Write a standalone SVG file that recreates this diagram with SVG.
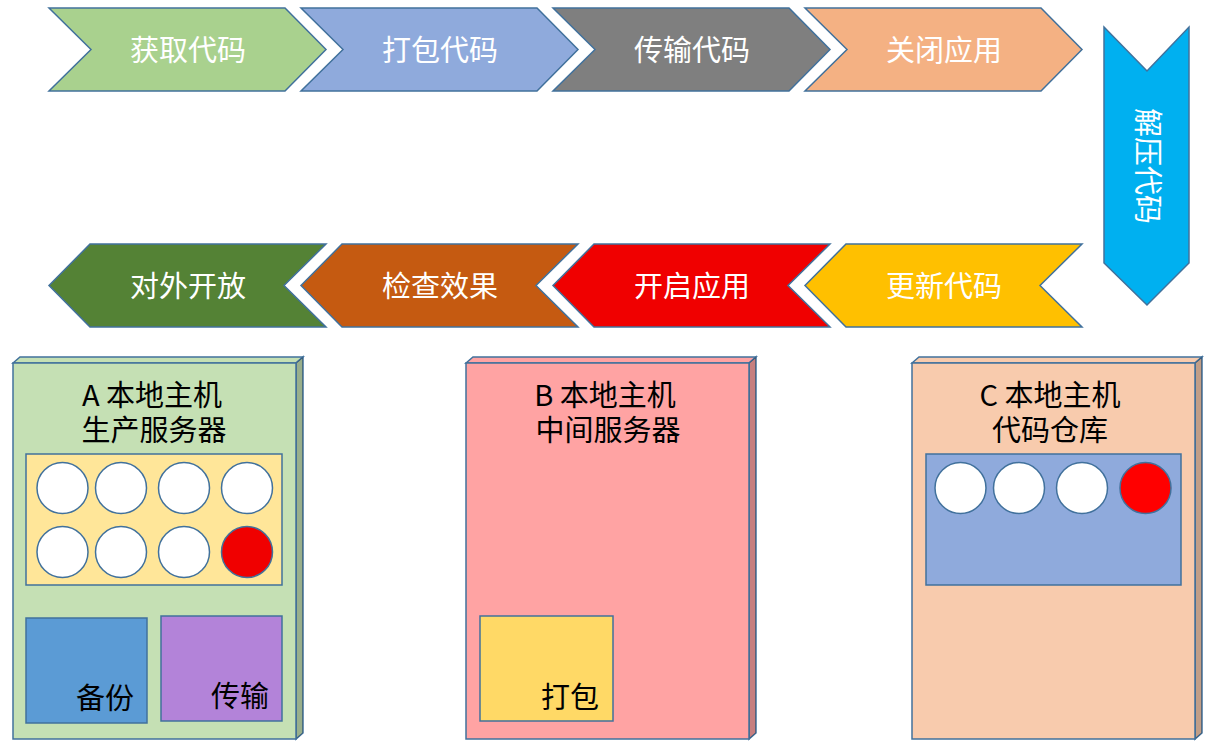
<svg xmlns="http://www.w3.org/2000/svg" width="1212" height="748" viewBox="0 0 1212 748">
<style>
.sh{stroke:#41719C;stroke-width:1.5;stroke-linejoin:miter}
.wt{fill:#FFFFFF;font-family:"Noto Sans CJK SC","Microsoft YaHei",sans-serif;font-size:29px;text-anchor:middle;dominant-baseline:central}
.bt{fill:#000000;font-family:"Noto Sans CJK SC","Microsoft YaHei",sans-serif;font-size:29px;text-anchor:middle;dominant-baseline:central}
.dk{fill:#000000;fill-opacity:0.22}
.c{fill:#FFFFFF}
.r{fill:#F00000}
</style>
<rect width="1212" height="748" fill="#FFFFFF"/>
<g id="connectors"></g>
<g id="s1"><path class="sh" fill="#A9D18E" d="M49,8 H285 L326,49.5 L285,91 H49 L91,49.5 Z"/><text class="wt" x="188" y="47.5">获取代码</text></g>
<g id="s2"><path class="sh" fill="#8FAADC" d="M301,8 H537 L578,49.5 L537,91 H301 L343,49.5 Z"/><text class="wt" x="440" y="47.5">打包代码</text></g>
<g id="s3"><path class="sh" fill="#7F7F7F" d="M553,8 H789 L830,49.5 L789,91 H553 L595,49.5 Z"/><text class="wt" x="692" y="47.5">传输代码</text></g>
<g id="s4"><path class="sh" fill="#F4B183" d="M805,8 H1041 L1082,49.5 L1041,91 H805 L847,49.5 Z"/><text class="wt" x="944" y="47.5">关闭应用</text></g>
<g id="s5"><path class="sh" fill="#00B0F0" d="M1104,27 L1147,71 L1189,27 V263 L1147,305 L1104,263 Z"/><text class="wt" transform="translate(1147,166) rotate(90)" x="0" y="-3">解压代码</text></g>
<g id="s6"><path class="sh" fill="#FFC000" d="M1082,244 H846 L805,285.5 L846,327 H1082 L1040,285.5 Z"/><text class="wt" x="944" y="283.5">更新代码</text></g>
<g id="s7"><path class="sh" fill="#F00000" d="M830,244 H594 L553,285.5 L594,327 H830 L788,285.5 Z"/><text class="wt" x="692" y="283.5">开启应用</text></g>
<g id="s8"><path class="sh" fill="#C55A11" d="M578,244 H342 L301,285.5 L342,327 H578 L536,285.5 Z"/><text class="wt" x="440" y="283.5">检查效果</text></g>
<g id="s9"><path class="sh" fill="#548235" d="M326,244 H90 L49,285.5 L90,327 H326 L284,285.5 Z"/><text class="wt" x="188" y="283.5">对外开放</text></g>

<g id="hostA">
<path class="sh" fill="#C5E0B4" d="M13,363 L20,357 H303 L296,363 Z"/>
<path class="sh" fill="#C5E0B4" d="M296,363 L303,357 V733 L296,739 Z"/>
<path class="dk" d="M296,363 L303,357 V733 L296,739 Z"/>
<rect class="sh" fill="#C5E0B4" x="13" y="363" width="283" height="376"/>
<text class="bt"><tspan x="152" y="393">A 本地主机</tspan><tspan x="154" y="428">生产服务器</tspan></text>
<rect class="sh" fill="#FFE699" x="26" y="454" width="256" height="131"/>
<circle class="sh c" cx="62.5" cy="488" r="25.5"/>
<circle class="sh c" cx="121" cy="488" r="25.5"/>
<circle class="sh c" cx="184" cy="488" r="25.5"/>
<circle class="sh c" cx="247" cy="488" r="25.5"/>
<circle class="sh c" cx="62.5" cy="552" r="25.5"/>
<circle class="sh c" cx="121" cy="552" r="25.5"/>
<circle class="sh c" cx="184" cy="552" r="25.5"/>
<circle class="sh r" cx="247" cy="552" r="25.5"/>
<rect class="sh" fill="#5B9BD5" x="26" y="618" width="121" height="105"/>
<text class="bt" x="105" y="696">备份</text>
<rect class="sh" fill="#B383D9" x="161" y="616" width="121" height="105"/>
<text class="bt" x="240" y="694">传输</text>
</g>

<g id="hostB">
<path class="sh" fill="#FFA3A3" d="M466,363 L473,357 H756 L749,363 Z"/>
<path class="sh" fill="#FFA3A3" d="M749,363 L756,357 V733 L749,739 Z"/>
<path class="dk" d="M749,363 L756,357 V733 L749,739 Z"/>
<rect class="sh" fill="#FFA3A3" x="466" y="363" width="283" height="376"/>
<text class="bt"><tspan x="605" y="393">B 本地主机</tspan><tspan x="608" y="428">中间服务器</tspan></text>
<rect class="sh" fill="#FFD966" x="480" y="616" width="133" height="105"/>
<text class="bt" x="570" y="695">打包</text>
</g>

<g id="hostC">
<path class="sh" fill="#F8CBAD" d="M912,363 L919,357 H1202 L1195,363 Z"/>
<path class="sh" fill="#F8CBAD" d="M1195,363 L1202,357 V733 L1195,739 Z"/>
<path class="dk" d="M1195,363 L1202,357 V733 L1195,739 Z"/>
<rect class="sh" fill="#F8CBAD" x="912" y="363" width="283" height="376"/>
<text class="bt"><tspan x="1050" y="393">C 本地主机</tspan><tspan x="1050" y="428">代码仓库</tspan></text>
<rect class="sh" fill="#8FAADC" x="926" y="454" width="255" height="131"/>
<circle class="sh c" cx="960.5" cy="488" r="25.5"/>
<circle class="sh c" cx="1019" cy="488" r="25.5"/>
<circle class="sh c" cx="1082" cy="488" r="25.5"/>
<circle class="sh" fill="#FF0000" cx="1145.5" cy="488" r="25.5"/>
</g>
</svg>
